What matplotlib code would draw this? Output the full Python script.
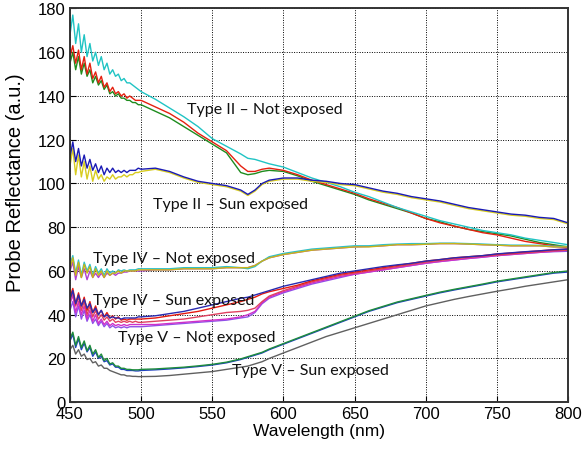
import matplotlib

matplotlib.use("Agg")
import matplotlib.pyplot as plt

# wavelength grid (nm): dense where the spectra are noisy, coarser afterwards
wavelength = ([450, 452, 454, 456, 458, 460, 462, 464, 466, 468, 470, 472, 474,
               476, 478, 480, 482, 484, 486, 488, 490, 492, 494, 496, 498, 500]
              + [510, 520, 530, 540, 550, 560, 570, 575, 580, 585, 590]
              + [600, 610, 620, 630, 640, 650, 660, 670, 680, 690, 700,
                 710, 720, 730, 740, 750, 760, 770, 780, 790, 800])

# Type II - not exposed
t2_not_green = ([155, 160, 152, 158, 150, 155, 149, 152, 146, 149, 145, 147, 143, 145, 141, 142, 140, 141, 139, 139, 138, 138, 137, 137, 136, 136]
                + [133, 130, 126, 122, 118, 114, 105, 104, 104.5, 105.5, 106]
                + [105.5, 103.5, 101, 99, 97, 95, 92.5, 90.5, 88.5, 86.5, 84, 82.5, 80.5, 79, 78, 77, 76, 74.5, 73, 72, 71])
t2_not_red = ([158, 163, 155, 161, 152, 158, 150, 155, 148, 151, 146, 149, 144, 146, 142, 144, 141, 142, 140, 141, 139, 140, 139, 138, 138, 138]
              + [135, 132, 128, 123, 119, 115, 108, 105.5, 105.5, 106.5, 107]
              + [106, 104, 101.5, 99.5, 97.5, 95.5, 93, 91, 89, 86.5, 84, 82, 80.5, 79, 77.5, 76.5, 75, 73.5, 72.5, 71.5, 70.5])
t2_not_cyan = ([168, 177, 164, 173, 160, 168, 158, 164, 156, 160, 154, 158, 152, 155, 150, 152, 149, 150, 147, 148, 146, 146, 145, 144, 143, 142]
               + [138.5, 134.5, 130.5, 126, 120.5, 117, 113.5, 111.5, 111, 110, 109]
               + [107.5, 105, 102.5, 100.5, 98.5, 96, 94, 91.5, 89, 87, 85, 83, 81.5, 80, 78.5, 77.5, 76.5, 75, 74, 73, 72])

# Type II - sun exposed
t2_sun_yellow = ([108, 116, 104, 113, 103, 110, 102, 108, 101, 106, 102, 104, 101, 103, 102, 104, 102, 103, 103, 104, 103, 104, 104, 105, 105, 105.5]
                 + [106.5, 105, 102.5, 100.5, 99.5, 98.5, 96.5, 94.5, 96.5, 99.5, 101]
                 + [102, 102, 101, 100.5, 99.5, 99, 97.5, 96, 95, 93.5, 92.5, 91.5, 90, 88.5, 87.5, 86.5, 85.5, 85, 84, 83.5, 81.5])
t2_sun_blue = ([112, 119, 110, 116, 108, 113, 107, 111, 106, 109, 105, 108, 104, 107, 105, 107, 105, 106, 105, 106, 105, 106, 106, 106, 107, 106.5]
               + [107, 105.5, 103, 101, 100, 99, 97, 95, 97, 100, 101.5]
               + [102.5, 102.5, 101.5, 101, 100, 99.5, 98, 96.5, 95.5, 94, 93, 92, 90.5, 89, 88, 87, 86, 85.5, 84.5, 84, 82])

# Type IV - not exposed
t4_not_magenta = ([60, 64, 56, 62, 57, 61, 56, 60, 57, 59, 57, 59, 57, 59, 58, 59, 58, 59, 59, 59.5, 59.5, 60, 60, 60, 60, 60]
                  + [60.5, 60.5, 61, 61, 61, 61.5, 61.5, 61.5, 62.5, 64.5, 66]
                  + [67.5, 68.5, 69.5, 70, 70.5, 71, 71.2, 71.5, 72, 72, 72.2, 72.5, 72.5, 72.3, 72, 71.8, 71.5, 71.5, 71.5, 71, 71])
t4_not_cyan = ([63, 67, 59, 65, 58, 64, 60, 63, 58, 62, 59, 61, 58, 61, 59, 60, 59, 60.5, 60, 60.5, 60, 60.5, 60.5, 60.5, 61, 61]
               + [61, 61, 61.5, 61.5, 61.5, 62, 61.5, 61, 62, 64.5, 66.5]
               + [68, 69, 70, 70.5, 71, 71.5, 71.5, 72, 72.3, 72.5, 72.5, 72.7, 72.7, 72.5, 72.3, 72, 71.8, 71.8, 71.7, 71.3, 71.2])
t4_not_yellow = ([61, 66, 58, 64, 57, 63, 59, 62, 57, 61, 58, 60, 57, 60, 58, 59, 59, 60, 59, 60, 60, 60, 60, 60, 60.5, 60.5]
                 + [60.5, 60.5, 61, 61, 61, 61.5, 61.5, 61.5, 62.5, 64.5, 66]
                 + [67.5, 68.5, 69.5, 70, 70.5, 71, 71, 71.5, 72, 72, 72.2, 72.5, 72.5, 72.3, 72, 71.8, 71.5, 71.5, 71.5, 71, 71])

# Type IV - sun exposed
t4_sun_purple = ([42, 46, 39, 44, 38, 42, 37, 40, 36, 38, 35, 37, 34.5, 36, 34, 35, 34, 34.5, 34, 34.5, 34, 34.5, 34.5, 34.5, 34.5, 34.5]
                 + [35, 35.5, 36, 36.5, 37, 37.5, 38.5, 39, 41, 45, 47.5]
                 + [50, 52, 54, 55.5, 57, 58.5, 59.5, 60.5, 61.5, 62.5, 63.5, 64.3, 65, 65.7, 66.3, 67, 67.5, 68, 68.5, 68.8, 69])
t4_sun_magenta = ([45, 49, 41, 46, 40, 44, 38, 42, 37, 40, 36, 38, 35.5, 37, 35, 36, 35, 35.5, 35, 35.5, 35, 35.5, 35.5, 35.5, 35.5, 35.5]
                  + [35.5, 36, 36.5, 37, 37.5, 38, 39, 40, 41.5, 45.5, 48]
                  + [50.5, 52.5, 54.5, 56, 57.5, 58.5, 59.5, 60.5, 61.5, 62.5, 63.5, 64.3, 65, 65.7, 66.3, 67, 67.5, 68, 68.5, 69, 69.5])
t4_sun_pink = ([47, 50, 44, 48, 42, 46, 40, 44, 39, 42, 38, 40, 37.5, 39, 37, 38, 36.5, 37, 36.5, 37, 36.5, 37, 36.5, 37, 36.5, 36.5]
               + [37, 37.5, 38, 39, 40, 41, 41.5, 42, 43, 46, 48.5]
               + [51, 53, 55, 56.5, 58, 59, 60, 61, 62, 63, 64, 64.8, 65.5, 66.2, 66.8, 67.3, 67.8, 68.3, 68.8, 69.2, 69.5])
t4_sun_red = ([48, 52, 45, 50, 44, 48, 42, 46, 41, 44, 40, 42, 39, 41, 38.5, 39.5, 38, 39, 37.5, 38, 37.5, 38, 38, 38, 38, 38]
              + [38.5, 39.5, 40.5, 41.5, 43, 44.5, 46, 47, 48, 49.5, 50.5]
              + [52, 53.5, 55.5, 57, 58.5, 59.5, 60.5, 61.5, 62.5, 63.5, 64.5, 65.2, 66, 66.5, 67, 67.7, 68.2, 68.7, 69.2, 69.7, 70])
t4_sun_blue = ([47, 51, 45, 49, 44, 47, 43, 45, 41, 43, 40, 42, 39, 40, 38.5, 39, 38.5, 38.5, 38, 38.5, 38.5, 38.5, 38.5, 38.5, 39, 39]
               + [39.5, 40.5, 41.5, 43, 44.5, 46, 47.5, 48, 49, 50, 51]
               + [53, 54.5, 56, 57.5, 59, 60, 61, 62, 62.8, 63.5, 64.5, 65.2, 66, 66.5, 67, 67.8, 68.3, 68.8, 69.2, 69.7, 70])

# Type V - not exposed
t5_not_blue = ([28, 31, 25, 29, 24, 27, 23, 25, 21, 23, 20, 21, 18.5, 19, 17, 17.5, 16, 16, 15, 15, 14.5, 14.5, 14.5, 14.3, 14.3, 14.5]
               + [14.8, 15.2, 15.7, 16.3, 17, 18, 19.5, 20.5, 21.5, 22.5, 24]
               + [26.5, 29, 31.5, 34, 36.5, 39, 41.5, 43.5, 45.5, 47, 48.5, 50, 51.3, 52.5, 53.7, 55, 56, 57, 58, 59, 59.5])
t5_not_green = ([29, 32, 26, 30, 25, 28, 23.5, 26, 22, 24, 20.5, 22, 19, 20, 17.5, 18, 16.5, 16.5, 15.5, 15.5, 15, 15, 14.8, 14.8, 14.8, 15]
                + [15.2, 15.6, 16, 16.6, 17.3, 18.3, 19.8, 20.8, 21.8, 22.8, 24.3]
                + [26.8, 29.3, 31.8, 34.3, 36.8, 39.3, 41.8, 43.8, 45.8, 47.3, 48.8, 50.3, 51.6, 52.8, 54, 55.3, 56.3, 57.3, 58.3, 59.3, 60])

# Type V - sun exposed
t5_sun_gray = ([24, 26, 22, 24, 21, 22, 19.5, 20, 18, 18.5, 16.5, 17, 15.5, 15.5, 14.5, 14, 13.5, 13, 12.5, 12.5, 12, 12, 11.8, 11.8, 11.7, 11.7]
               + [11.8, 12.2, 12.8, 13.4, 14, 15, 16, 16.5, 17.5, 18.5, 20]
               + [22.5, 25, 27.5, 30, 32, 34, 36, 38, 40, 42, 44, 45.5, 47, 48.3, 49.5, 50.7, 51.8, 53, 54, 55, 56])

series = [
    (t2_not_green, "#1e8c1e"), (t2_not_red, "#e52010"), (t2_not_cyan, "#20c4c4"),
    (t2_sun_yellow, "#d8cc20"), (t2_sun_blue, "#1a1ab4"),
    (t4_not_magenta, "#b040d0"), (t4_not_cyan, "#30c0c8"), (t4_not_yellow, "#c8b418"),
    (t4_sun_purple, "#9050e8"), (t4_sun_magenta, "#d030c8"), (t4_sun_pink, "#e04060"),
    (t4_sun_red, "#e51a10"), (t4_sun_blue, "#2a2ab0"),
    (t5_not_blue, "#2040c0"), (t5_not_green, "#1e8c3c"),
    (t5_sun_gray, "#606060"),
]

labels = ["Type II \u2013 Not exposed", "Type II \u2013 Sun exposed",
          "Type IV \u2013 Not exposed", "Type IV \u2013 Sun exposed",
          "Type V \u2013 Not exposed", "Type V \u2013 Sun exposed"]
label_pos = [(532, 134), (508, 90.5), (466, 66), (466, 46.5), (484, 30), (564, 14.5)]

plt.rcParams["font.family"] = ["Liberation Sans", "DejaVu Sans"]

fig = plt.figure(figsize=(5.88, 4.52), dpi=100)
ax = fig.add_axes([0.119, 0.108, 0.847, 0.871])

for values, color in series:
    ax.plot(wavelength, values, color=color, linewidth=1.0)

for text, (x, y) in zip(labels, label_pos):
    ax.text(x, y, text, fontsize=11.5, family=["Lato", "DejaVu Sans"],
            va="center", ha="left", color="#111111")

ax.set_xlim(450, 800)
ax.set_ylim(0, 180)
ax.set_xticks(range(450, 801, 50))
ax.set_yticks(range(0, 181, 20))
ax.grid(True, color="black", linestyle=(0, (1, 1.5)), linewidth=0.7)
ax.tick_params(direction="in", length=4, labelsize=12, pad=3)
for spine in ax.spines.values():
    spine.set_linewidth(1.4)
    spine.set_color("#333333")

ax.set_xlabel("Wavelength (nm)", fontsize=12.5, labelpad=1)
ax.set_ylabel("Probe Reflectance (a.u.)", fontsize=14.5, labelpad=2)
ax.yaxis.set_label_coords(-0.09, 0.56)

fig.savefig("out.png", dpi=100)
